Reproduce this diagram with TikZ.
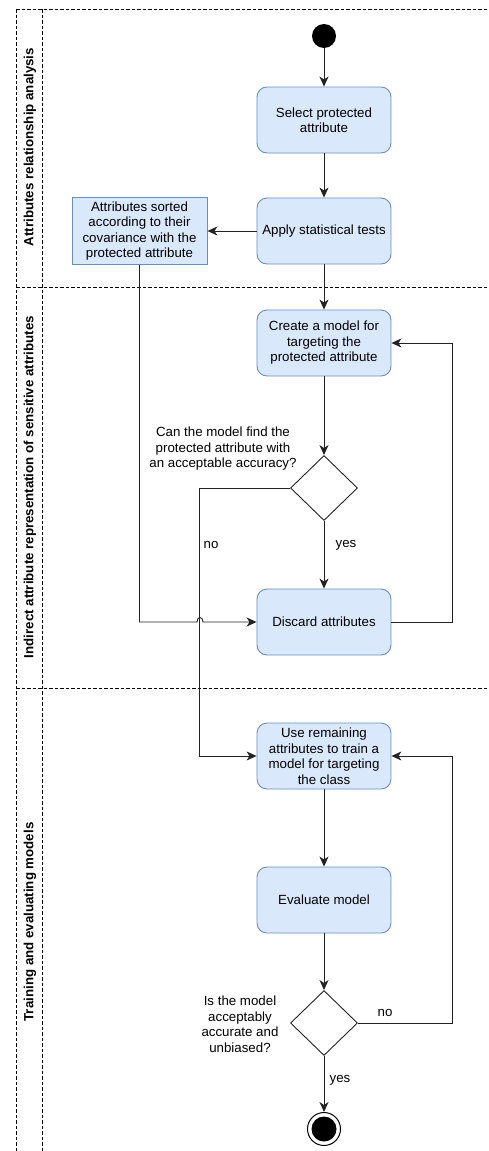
\documentclass[tikz,border=0pt]{standalone}
\usepackage{fontspec}
\setmainfont{Liberation Sans}
\usetikzlibrary{arrows.meta,shapes.geometric}
\definecolor{bfill}{HTML}{DAE8FC}
\definecolor{bdraw}{HTML}{6C8EBF}
\definecolor{ln}{HTML}{222222}
\begin{document}
\begin{tikzpicture}[x=1pt,y=-1pt,
  font=\fontsize{13.3}{15.5}\selectfont,
  act/.style={draw=bdraw, fill=bfill, rounded corners=10pt, minimum width=134pt, minimum height=66pt, align=center, inner sep=2pt, line width=0.9pt},
  note/.style={draw=bdraw, fill=bfill, minimum width=135pt, minimum height=67pt, align=center, inner sep=1pt, line width=0.9pt},
  dec/.style={draw=ln, diamond, minimum width=67pt, minimum height=65pt, inner sep=0pt, line width=0.9pt},
  flow/.style={draw=ln, line width=0.9pt, -{Stealth[length=10pt,width=9pt,inset=3pt]}},
  lane/.style={draw=black, dash pattern=on 3.5pt off 2pt, line width=0.7pt},
  lanelabel/.style={rotate=90, font=\fontsize{13.3}{15}\selectfont\bfseries},
  txt/.style={align=center, inner sep=0pt}
]
\useasboundingbox (0,0) rectangle (489,1151);
% swimlanes
\draw[lane] (16,9) -- (489,9);
\draw[lane] (16,287) -- (489,287);
\draw[lane] (16,688) -- (489,688);
\draw[lane] (16,9) -- (16,1151);
\draw[lane] (42,9) -- (42,1151);
\node[lanelabel] (l1) at (30,147) {Attributes relationship analysis};
\node[lanelabel] (l2) at (30,487) {Indirect attribute representation of sensitive attributes};
\node[lanelabel] (l3) at (30,922) {Training and evaluating models};
% nodes
\node[circle, fill=black, minimum size=24pt, inner sep=0pt] (start) at (324,36) {};
\node[act] (sel) at (324,120) {Select protected\\attribute};
\node[act] (app) at (324,231) {Apply statistical tests};
\node[note] (sorted) at (139.5,231) {Attributes sorted\\according to their\\covariance with the\\protected attribute};
\node[act] (create) at (324,343) {Create a model for\\targeting the\\protected attribute};
\node[dec] (d1) at (324,488) {};
\node[txt] (q1) at (223,449) {Can the model find the\\protected attribute with\\an acceptable accuracy?};
\node[act] (disc) at (324,622) {Discard attributes};
\node[act] (use) at (324,756) {Use remaining\\attributes to train a\\model for targeting\\the class};
\node[act] (eval) at (324,900) {Evaluate model};
\node[dec] (d2) at (324,1023) {};
\node[txt] (q2) at (240,1024) {Is the model\\acceptably\\accurate and\\unbiased?};
\node[circle, draw=black, line width=1pt, minimum size=33pt, inner sep=0pt] (end) at (324,1129) {};
\node[circle, fill=black, minimum size=25pt, inner sep=0pt] (endin) at (end) {};
% connectors
\draw[flow] (start) -- (sel);
\draw[flow] (sel) -- (app);
\draw[flow] (app) -- (sorted);
\draw[flow] (app) -- (create);
\draw[flow] (create) -- (d1);
\draw[flow] (d1) -- (disc);
\node[txt] (yes1) at (346,545) {yes};
\draw[flow] (disc.east) -- ++(61,0) |- (create.east);
\draw[flow] (d1.west) -- ++(-91,0) |- (use.west);
\node[txt] (no1) at (211,545) {no};
\draw[flow] (sorted.south) -- (139.5,622) -- (197,622) .. controls (197,616) and (203,616) .. (203,622) -- (disc.west);
\draw[flow] (use) -- (eval);
\draw[flow] (eval) -- (d2);
\draw[flow] (d2) -- (end);
\node[txt] (yes2) at (340,1080) {yes};
\draw[flow] (d2.east) -- ++(94,0) |- (use.east);
\node[txt] (no2) at (385,1013) {no};
\end{tikzpicture}
\end{document}
